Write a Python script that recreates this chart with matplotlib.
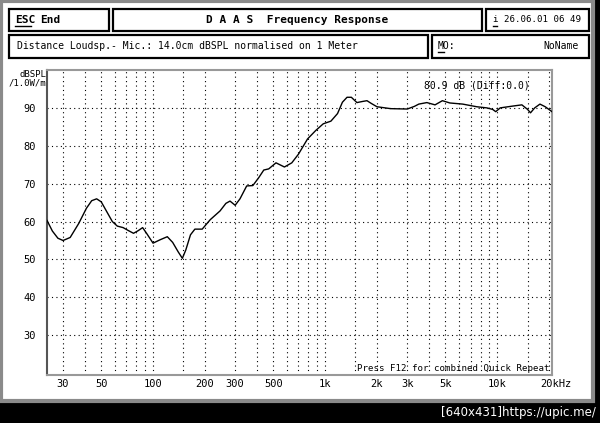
import numpy as np
from matplotlib import pyplot as plt
from matplotlib.patches import Rectangle

freq = [24.2, 26, 28, 30, 33, 37, 41, 44, 47, 50, 54, 58, 62, 67, 72, 77, 82, 87,
        92, 100, 110, 121, 130, 140, 148, 155, 165, 175, 193, 215, 245, 265, 280,
        300, 320, 350, 380, 410, 440, 470, 518, 580, 640, 700, 790, 880, 975, 1080,
        1180, 1260, 1340, 1420, 1530, 1650, 1750, 1850, 2000, 2400, 3000, 3300,
        3500, 3900, 4350, 4800, 5300, 6300, 7600, 8700, 9400, 9800, 10400, 12400,
        13900, 15000, 15600, 16500, 17700, 19000, 20800]
spl = [60.3, 57.5, 55.6, 55.0, 55.8, 59.5, 63.5, 65.5, 66.0, 65.2, 62.5, 60.0,
       58.8, 58.4, 57.6, 56.9, 57.6, 58.4, 56.8, 54.3, 55.2, 56.0, 54.5, 52.0,
       50.3, 52.5, 56.5, 58.0, 58.0, 60.5, 62.8, 64.8, 65.4, 64.3, 66.0, 69.4,
       69.5, 71.5, 73.6, 73.9, 75.5, 74.4, 75.5, 77.8, 81.8, 84.0, 85.8, 86.5,
       88.5, 91.5, 92.8, 92.8, 91.4, 91.7, 91.9, 91.2, 90.3, 89.8, 89.7, 90.4,
       91.0, 91.4, 90.8, 91.9, 91.3, 91.0, 90.3, 90.0, 89.6, 89.0, 90.0, 90.5,
       90.8, 89.6, 88.7, 90.0, 91.0, 90.3, 89.0]

xticks = [30, 50, 100, 200, 300, 500, 1000, 2000, 3000, 5000, 10000]
xlabels = ['30', '50', '100', '200', '300', '500', '1k', '2k', '3k', '5k', '10k']
yticks = [30, 40, 50, 60, 70, 80, 90]

W, H = 600, 423
mono = 'DejaVu Sans Mono'


def fx(x):
    return x / W


def fy(y):
    return 1 - y / H


fig = plt.figure(figsize=(6, 4.23), dpi=100)
fig.patch.set_facecolor('black')

# white screen with dithered grey frame
fig.patches.append(Rectangle((fx(1), fy(401)), fx(592), 400 / H, transform=fig.transFigure,
                             facecolor='white', edgecolor='#8a8a8a', linewidth=3, zorder=-5))


def box(x0, y0, x1, y1):
    fig.patches.append(Rectangle((fx(x0), fy(y1)), fx(x1 - x0), (y1 - y0) / H,
                                 transform=fig.transFigure, facecolor='white',
                                 edgecolor='black', linewidth=1.6, zorder=-4))


box(9, 9, 109, 31)
box(113, 9, 482, 31)
box(486, 9, 589, 31)
box(9, 35, 428, 58)
box(432, 35, 589, 58)

fig.text(fx(15), fy(20), 'ESC', family=mono, weight='bold', size=8, va='center')
fig.add_artist(plt.Line2D([fx(15), fx(31)], [fy(26), fy(26)], color='black', lw=1))
fig.text(fx(40), fy(20), 'End', family=mono, weight='bold', size=8, va='center')
fig.text(fx(297), fy(20), 'D A A S  Frequency Response', family=mono, weight='bold',
         size=8, va='center', ha='center')
fig.text(fx(493), fy(20), 'i 26.06.01 06 49', family=mono, size=6.6, va='center')
fig.add_artist(plt.Line2D([fx(493), fx(497)], [fy(26), fy(26)], color='black', lw=1))
fig.text(fx(17), fy(46), 'Distance Loudsp.- Mic.: 14.0cm dBSPL normalised on 1 Meter',
         family=mono, size=7, va='center')
fig.text(fx(438), fy(46), 'MO:', family=mono, size=7, va='center')
fig.add_artist(plt.Line2D([fx(438), fx(444)], [fy(52), fy(52)], color='black', lw=1))
fig.text(fx(561), fy(46), 'NoName', family=mono, size=7, va='center', ha='center')

ax = fig.add_axes([fx(47), fy(375), fx(505), 305 / H])
ax.set_zorder(2)
ax.set_facecolor('white')
ax.semilogx(freq, spl, color='black', linewidth=1.0, zorder=3)
ax.set_xlim(24.2, 20800)
ax.set_ylim(19.5, 100)

# dotted grid: decade subdivisions plus the 1.5 lines
vgrid = [m * d for d in (10, 100, 1000, 10000) for m in (1, 1.5, 2, 3, 4, 5, 6, 7, 8, 9)]
for v in vgrid:
    if 24.2 < v < 20800:
        ax.axvline(v, color='black', linestyle=(0, (1, 3)), linewidth=0.8)
for h in yticks:
    ax.axhline(h, color='black', linestyle=(0, (1, 3)), linewidth=0.8)

for s in ax.spines.values():
    s.set_color('#999999')
    s.set_linewidth(1.5)
ax.spines['left'].set_color('#555555')

ax.set_xticks(xticks)
ax.set_xticklabels(xlabels, family=mono, size=7.5)
ax.xaxis.set_minor_locator(plt.NullLocator())
ax.set_yticks(yticks)
ax.set_yticklabels([str(t) for t in yticks], family=mono, size=7.5)
ax.tick_params(length=0, pad=3)
ax.tick_params(axis='y', pad=8)

ax.annotate('20kHz', xy=(20000, 0), xycoords=('data', 'axes fraction'),
            xytext=(-6, -3), textcoords='offset points', ha='left', va='top',
            family=mono, size=7.5)

fig.text(fx(46), fy(79), 'dBSPL\n/1.0W/m', family=mono, size=6.5, ha='right', va='center',
         linespacing=1.0)
ax.text(0.956, 0.965, '80.9 dB (Diff:0.0)', transform=ax.transAxes, family=mono,
        size=7, ha='right', va='top')
ax.text(0.995, 0.008, 'Press F12 for combined Quick Repeat', transform=ax.transAxes,
        family=mono, size=6.6, ha='right', va='bottom')

fig.text(fx(596), fy(412), '[640x431]https://upic.me/', family='DejaVu Sans', size=8.5,
         color='white', ha='right', va='center')

plt.savefig('out.png', dpi=100, facecolor='black')
